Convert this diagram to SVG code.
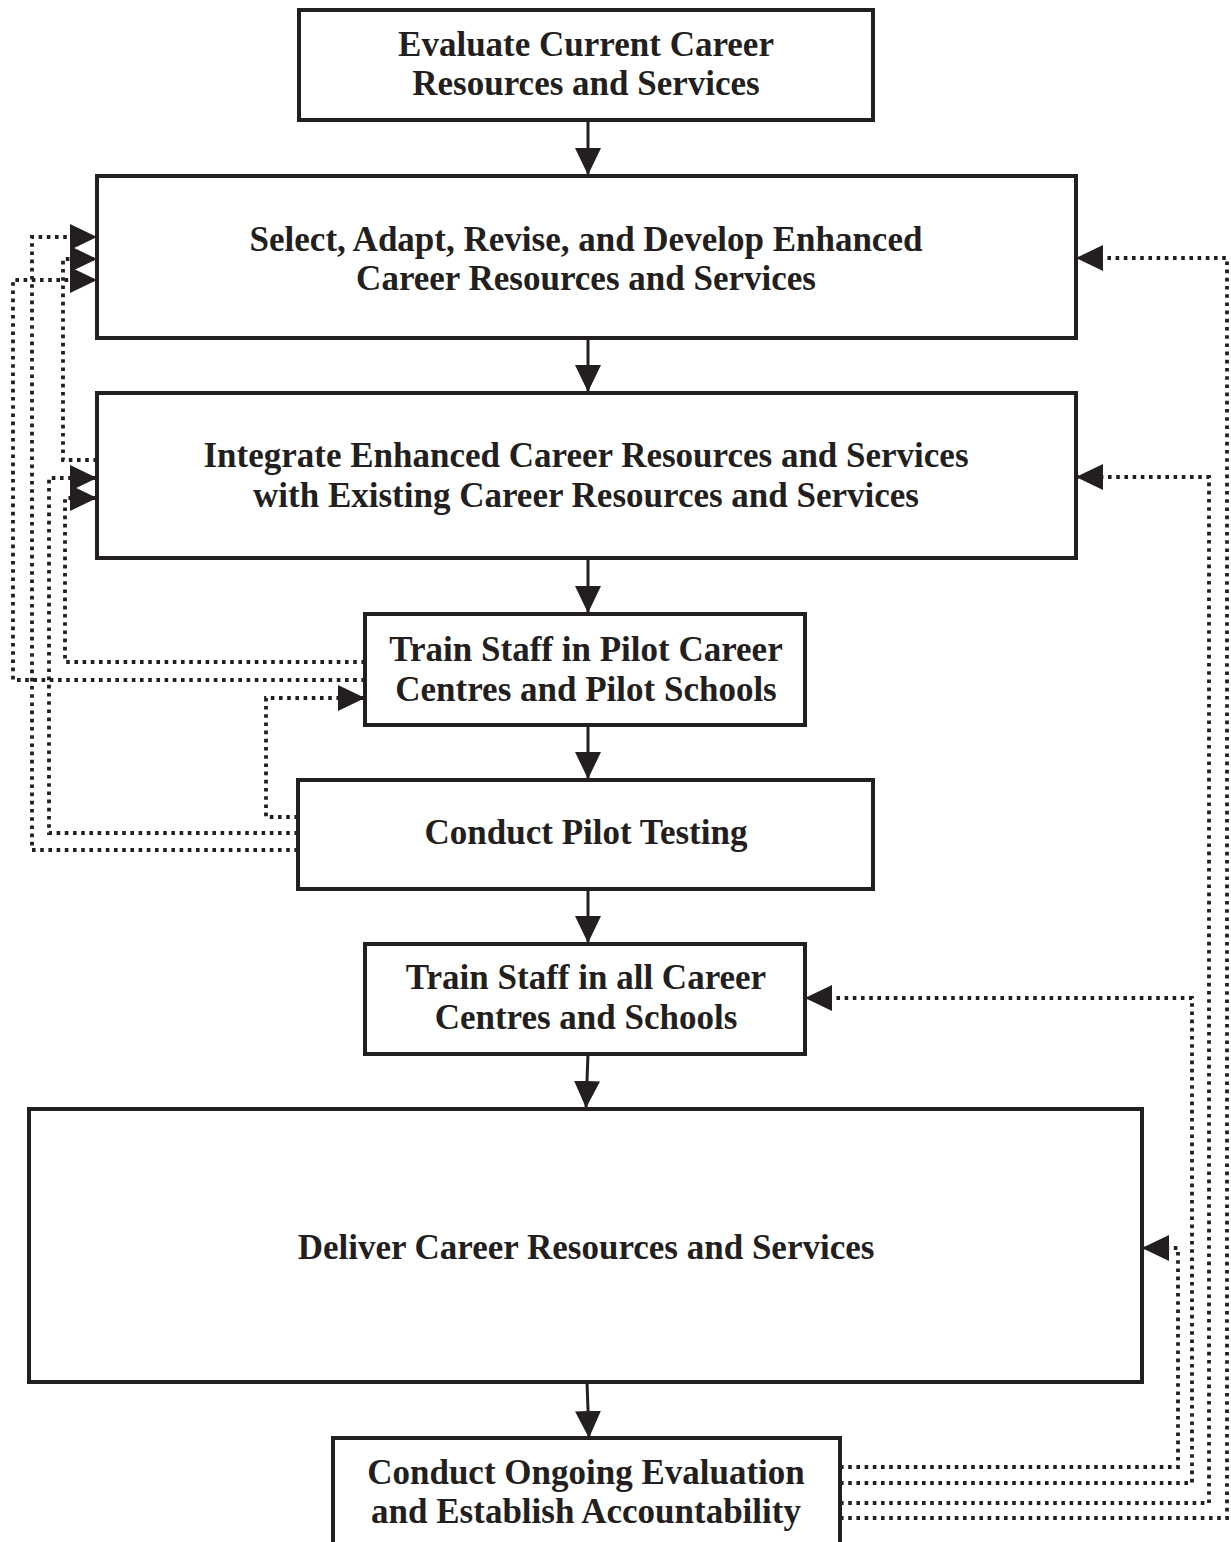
<svg xmlns="http://www.w3.org/2000/svg" width="1231" height="1542" viewBox="0 0 1231 1542">
<style>
.box{fill:#fff;stroke:#231f20;stroke-width:4}
.t{font-family:"Liberation Serif","Times New Roman",serif;font-weight:bold;font-size:35px;fill:#231f20;text-anchor:middle}
.flow{fill:none;stroke:#231f20;stroke-width:3;marker-end:url(#ah)}
.fb{fill:none;stroke:#231f20;stroke-width:3.8;stroke-dasharray:3.6 4.6;marker-end:url(#ah)}
</style>
<defs>
<marker id="ah" viewBox="0 0 27 26" refX="27" refY="13" markerWidth="27" markerHeight="26" markerUnits="userSpaceOnUse" orient="auto">
<path d="M0,0 L27,13 L0,26 z" fill="#231f20"/>
</marker>
</defs>
<rect width="1231" height="1542" fill="#fff"/>
<g id="connectors">
<path class="flow" d="M588,120 V175"/>
<path class="flow" d="M588,338 V392"/>
<path class="flow" d="M588,558 V613"/>
<path class="flow" d="M588,725 V779"/>
<path class="flow" d="M588,889 V943"/>
<path class="flow" d="M588,1054 L586,1108"/>
<path class="flow" d="M587,1382 L589,1438"/>
<path class="fb" d="M298,850 H32 V237 H97"/>
<path class="fb" d="M97,460 H63 V259 H97"/>
<path class="fb" d="M365,680 H13 V280 H97"/>
<path class="fb" d="M298,833 H49 V478 H97"/>
<path class="fb" d="M365,662 H65 V498 H97"/>
<path class="fb" d="M298,817 H266 V698 H365"/>
<path class="fb" d="M840,1467 H1178 V1248 H1142"/>
<path class="fb" d="M840,1483 H1192 V998 H805"/>
<path class="fb" d="M840,1503 H1209 V477 H1076"/>
<path class="fb" d="M840,1518 H1227 V258 H1076"/>
</g>
<g id="n1"><rect class="box" x="299" y="10" width="574" height="110"/><text class="t" x="586" y="56">Evaluate Current Career</text><text class="t" x="586" y="95">Resources and Services</text></g>
<g id="n2"><rect class="box" x="97" y="176" width="979" height="162"/><text class="t" x="586" y="251">Select, Adapt, Revise, and Develop Enhanced</text><text class="t" x="586" y="290">Career Resources and Services</text></g>
<g id="n3"><rect class="box" x="97" y="393" width="979" height="165"/><text class="t" x="586" y="467">Integrate Enhanced Career Resources and Services</text><text class="t" x="586" y="507">with Existing Career Resources and Services</text></g>
<g id="n4"><rect class="box" x="365" y="614" width="440" height="111"/><text class="t" x="586" y="661">Train Staff in Pilot Career</text><text class="t" x="586" y="701">Centres and Pilot Schools</text></g>
<g id="n5"><rect class="box" x="298" y="780" width="575" height="109"/><text class="t" x="586" y="844">Conduct Pilot Testing</text></g>
<g id="n6"><rect class="box" x="365" y="944" width="440" height="110"/><text class="t" x="586" y="989">Train Staff in all Career</text><text class="t" x="586" y="1029">Centres and Schools</text></g>
<g id="n7"><rect class="box" x="29" y="1109" width="1113" height="273"/><text class="t" x="586" y="1259">Deliver Career Resources and Services</text></g>
<g id="n8"><rect class="box" x="333" y="1438" width="507" height="120"/><text class="t" x="586" y="1484">Conduct Ongoing Evaluation</text><text class="t" x="586" y="1523">and Establish Accountability</text></g>
</svg>
